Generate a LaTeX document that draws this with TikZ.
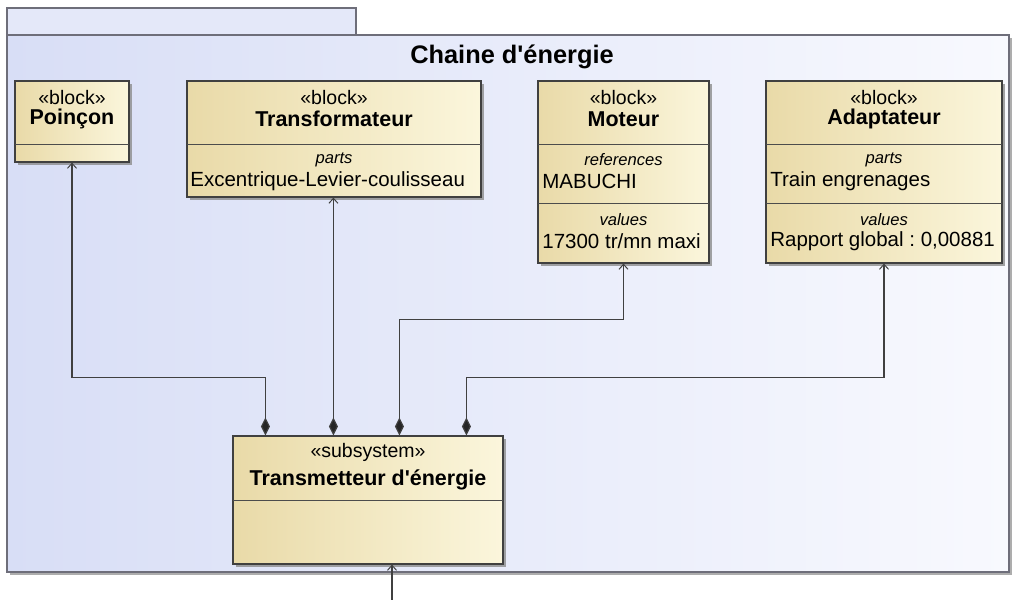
\documentclass[tikz,border=0pt]{standalone}
\usepackage{fontspec}
\setmainfont{Liberation Sans}
\usetikzlibrary{arrows.meta,calc,shadows}
\definecolor{frameA}{HTML}{D8DEF6}
\definecolor{frameB}{HTML}{F8F9FE}
\definecolor{blockA}{HTML}{E9DAA8}
\definecolor{blockB}{HTML}{FBF6DC}
\definecolor{edge}{HTML}{6E6E7A}
\def\pxu{0.018cm}
\frenchspacing

\begin{document}
\begin{tikzpicture}[x=0.018cm, y=-0.018cm,
	block/.style={draw=black!75, line width=0.6pt, left color=blockA, right color=blockB,
		drop shadow={shadow xshift=1.4pt, shadow yshift=-1.4pt, fill=black!45, opacity=0.8}},
	stereo/.style={font=\fontsize{10}{12}\selectfont},
	bname/.style={font=\fontsize{11}{13}\selectfont\bfseries},
	cname/.style={font=\fontsize{8.5}{10}\selectfont\itshape},
	prop/.style={anchor=west, inner sep=0pt, font=\fontsize{10.5}{12}\selectfont},
	comp/.style={draw=black!75, line width=0.6pt,
		{Diamond[length=18*\pxu, width=9*\pxu, fill=black!85]}-{Straight Barb[length=5*\pxu, width=9*\pxu, line width=0.5pt]}}]
	\useasboundingbox (0,0) rectangle (1017,600);

	% package frame
	\draw[draw=edge, line width=0.7pt, fill=frameA!70] (7,35) |- (356,8) -- (356,35);
	\node[draw=edge, line width=0.7pt, left color=frameA, right color=frameB, minimum width=1002*\pxu, minimum height=537*\pxu, inner sep=0pt,
		drop shadow={shadow xshift=1.6pt, shadow yshift=-1.6pt, fill=black!40, opacity=0.8}] at (508,303.5) (chaine) {};
	\node[font=\fontsize{13}{15}\selectfont\bfseries] at (512,57) (titre) {Chaine d\textquotesingle énergie};

	% blocks
	\node[block, minimum width=114*\pxu, minimum height=81*\pxu] at (72,121.5) (poincon) {};
	\node[block, minimum width=294*\pxu, minimum height=116*\pxu] at (334,139) (transfo) {};
	\node[block, minimum width=171*\pxu, minimum height=182*\pxu] at (623.5,172) (moteur) {};
	\node[block, minimum width=236*\pxu, minimum height=182*\pxu] at (884,172) (adapt) {};
	\node[block, minimum width=270*\pxu, minimum height=128*\pxu] at (368,500) (transm) {};

	% compartments
	\draw[black!70] (15,144) -- (129,144);
	\draw[black!70] (187,144) -- (481,144);
	\draw[black!70] (538,144) -- (709,144);
	\draw[black!70] (538,203) -- (709,203);
	\draw[black!70] (766,144) -- (1002,144);
	\draw[black!70] (766,203) -- (1002,203);
	\draw[black!70] (233,500) -- (503,500);

	% texts
	\node[stereo] at (72,98) {«block»};
	\node[bname] at (72,119) {Poinçon};

	\node[stereo] at (334,98) {«block»};
	\node[bname] at (334,119) {Transformateur};
	\node[cname] at (334,160) {parts};
	\node[prop] at (190,181) {Excentrique-Levier-coulisseau};

	\node[stereo] at (623.5,98) {«block»};
	\node[bname] at (623.5,119) {Moteur};
	\node[cname] at (623.5,160) {references};
	\node[prop] at (542,181) {MABUCHI};
	\node[cname] at (623.5,220) {values};
	\node[prop] at (542,241) {17300 tr/mn maxi};

	\node[stereo] at (884,98) {«block»};
	\node[bname] at (884,119) {Adaptateur};
	\node[cname] at (884,160) {parts};
	\node[prop] at (770,181) {Train engrenages};
	\node[cname] at (884,220) {values};
	\node[prop] at (770,241) {Rapport global : 0,00881};

	\node[stereo] at (368,452) {«subsystem»};
	\node[bname] at (368,480) {Transmetteur d\textquotesingle énergie};

	% connectors
	\draw[comp] ($(transm.north west)+(33,0)$) -- ++(0,-58) -| (poincon.south);
	\draw[comp] ($(transm.north west)+(101,0)$) coordinate (t2) -- (t2 |- transfo.south);
	\draw[comp] ($(transm.north west)+(167,0)$) -- ++(0,-116) -| (moteur.south);
	\draw[comp] ($(transm.north west)+(234,0)$) -- ++(0,-58) -| (adapt.south);

	\coordinate (entree) at (392,600);
	\draw[draw=black!75, line width=0.6pt, -{Straight Barb[length=5*\pxu, width=9*\pxu, line width=0.5pt]}] (entree) -- (entree |- transm.south);
\end{tikzpicture}
\end{document}
